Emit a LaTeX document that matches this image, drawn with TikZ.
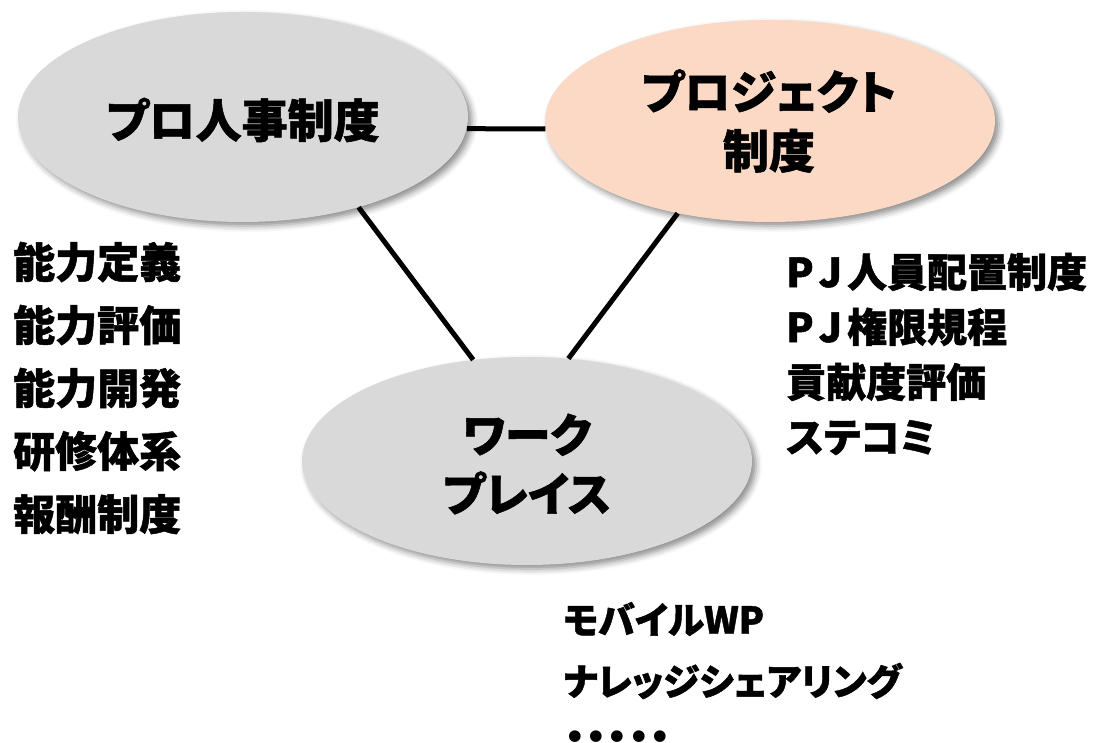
\documentclass[tikz,border=0pt]{standalone}
\usepackage{fontspec}
\newfontfamily\jp[RawFeature=+palt, BoldFeatures={FakeBold=1.2}]{Noto Sans CJK JP}
\newfontfamily\dv{DejaVu Sans}
\usetikzlibrary{shapes.geometric,shadows.blur}
\definecolor{ellgray}{HTML}{D9D9D9}
\definecolor{ellpeach}{HTML}{FBD9C5}
\tikzset{
  oval/.style={ellipse, inner sep=0pt, fill=ellgray,
    blur shadow={shadow xshift=4pt, shadow yshift=-4pt, shadow blur radius=6pt, shadow opacity=45}},
  title/.style={font=\jp\bfseries\fontsize{46}{59}\selectfont, align=center, inner sep=0pt},
  link/.style={line width=5pt},
  lista/.style={font=\jp\bfseries\fontsize{42}{63}\selectfont, align=left, inner sep=0pt, anchor=west},
  listb/.style={font=\jp\bfseries\fontsize{40}{55}\selectfont, align=left, inner sep=0pt, anchor=west},
  listc/.style={font=\jp\bfseries\fontsize{37}{60}\selectfont, align=left, inner sep=0pt, anchor=west},
  dots/.style={font=\dv\fontsize{40}{40}\selectfont, inner sep=0pt, anchor=west},
}
\begin{document}
\begin{tikzpicture}[x=1pt, y=-1pt]
\useasboundingbox (0,0) rectangle (1098,743);
\node[oval, minimum width=450pt, minimum height=210pt] (A) at (243,117) {};
\node[oval, fill=ellpeach, minimum width=450pt, minimum height=202pt] (B) at (770,121) {};
\node[oval, minimum width=450pt, minimum height=208pt] (C) at (527,461) {};
\draw[link] (A.-3.85) -- (B.182.8);
\draw[link] (A.-38.5) -- (C.118.6);
\draw[link] (B.225) -- (C.68.3);
\node[title] (At) at (243,120) {プロ人事制度};
\node[title] (Bt) at (769,121) {プロジェクト\\制度};
\node[title] (Ct) at (527,464) {ワーク\\プレイス};
\node[lista] (L) at (13,388) {能力定義\\能力評価\\能力開発\\研修体系\\報酬制度};
\node[listb] (R) at (786,354) {P\kern5pt J\kern5pt 人員配置制度\\P\kern5pt J\kern5pt 権限規程\\貢献度評価\\ステコミ};
\node[listc] (W1) at (563,619) {モバイルWP};
\node[listc] (W2) at (563,681) {ナレッジシェアリング};
\node[dots] (W3) at (563,741) {•\kern-2.3pt•\kern-2.3pt•\kern-2.3pt•\kern-2.3pt•};
\end{tikzpicture}
\end{document}
